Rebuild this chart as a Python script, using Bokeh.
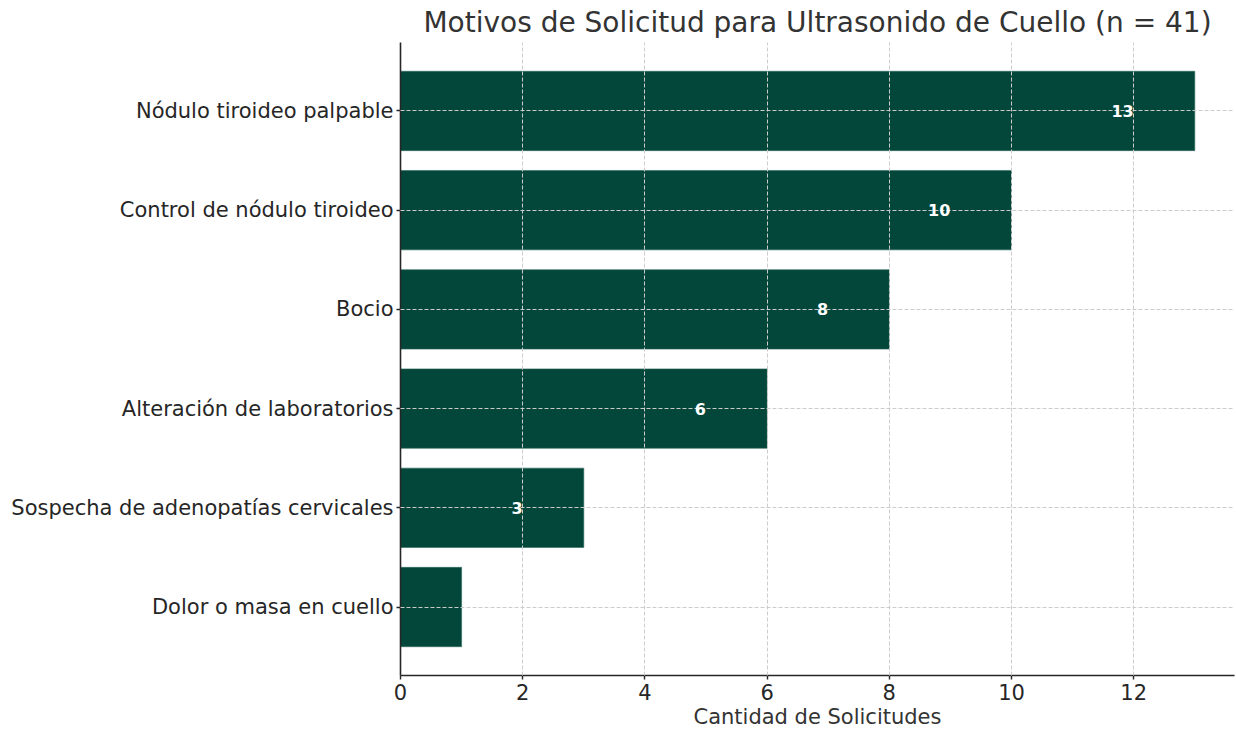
from bokeh.plotting import figure
from bokeh.models import ColumnDataSource, FixedTicker, LabelSet, Range1d
from bokeh.core.properties import value
from bokeh.embed import file_html
from bokeh.resources import INLINE

categories = ["Dolor o masa en cuello", "Sospecha de adenopatías cervicales",
              "Alteración de laboratorios", "Bocio",
              "Control de nódulo tiroideo", "Nódulo tiroideo palpable"]
counts = [1, 3, 6, 8, 10, 13]
x_ticks = [0, 2, 4, 6, 8, 10, 12]

positions = list(range(len(categories)))
source = ColumnDataSource(dict(
    y=positions,
    count=counts,
    label_x=[c - 1 for c in counts],
    label=[str(c) for c in counts],
))

FONT = "DejaVu Sans"
BAR = "#03473a"

p = figure(width=1236, height=732, output_backend="svg", toolbar_location=None,
           x_range=Range1d(0, max(counts) * 1.05),
           y_range=Range1d(-0.69, len(categories) - 1 + 0.69),
           min_border_left=400, min_border_right=2, min_border_bottom=57,
           min_border_top=0)

p.title.text = "Motivos de Solicitud para Ultrasonido de Cuello (n = 41)"
p.title.text_font = FONT
p.title.text_font_size = "28px"
p.title.text_font_style = "normal"
p.title.text_color = "#333333"
p.title.align = "center"
p.title.standoff = 7

p.hbar(y="y", right="count", left=0, height=0.8, source=source,
       fill_color=BAR, line_color="#2f6a5e", line_width=0.6)

labels = LabelSet(x="label_x", y="y", text="label", source=source,
                  text_align="right", text_baseline="middle",
                  text_color="white", text_font=value(FONT),
                  text_font_style="bold",
                  text_font_size="16px", level="overlay")
p.add_layout(labels)

p.outline_line_color = None
for g in (p.xgrid, p.ygrid):
    g.grid_line_color = "#cccccc"
    g.grid_line_dash = "4 2"
    g.grid_line_width = 1
    g.level = "annotation"

p.xaxis.ticker = FixedTicker(ticks=x_ticks)
p.yaxis.ticker = FixedTicker(ticks=positions)
p.yaxis.major_label_overrides = {i: c for i, c in enumerate(categories)}
p.xaxis.axis_label = "Cantidad de Solicitudes"

for ax in (p.xaxis, p.yaxis):
    ax.axis_line_color = "#262626"
    ax.axis_line_width = 1.6
    ax.major_tick_line_color = "#262626"
    ax.major_tick_line_width = 1.4
    ax.major_tick_out = 4
    ax.major_tick_in = 0
    ax.minor_tick_line_color = None
    ax.major_label_text_font = FONT
    ax.major_label_text_font_size = "21px"
    ax.major_label_text_color = "#262626"
    ax.axis_label_text_font = FONT
    ax.axis_label_text_font_size = "21px"
    ax.axis_label_text_font_style = "normal"
    ax.axis_label_text_color = "#333333"
p.xaxis.major_label_standoff = 4
p.yaxis.major_label_standoff = 3
p.xaxis.axis_label_standoff = 2

open("out.html", "w").write(file_html(p, INLINE))
